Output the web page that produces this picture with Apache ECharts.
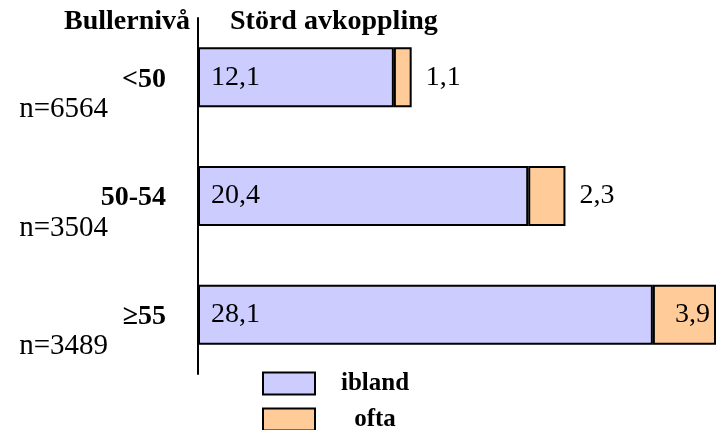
<!DOCTYPE html>
<html>
<head>
<meta charset="utf-8">
<script src="https://cdn.jsdelivr.net/npm/echarts@6/dist/echarts.min.js"></script>
<style>
  html, body { margin: 0; padding: 0; background: #fff; }
  #chart { width: 718px; height: 430px; }
</style>
</head>
<body>
<div id="chart"></div>
<script>
// Bullernivå-kategorier och antal svarande
const levels = ['<50', '50-54', '≥55'];
const counts = ['n=6564', 'n=3504', 'n=3489'];

// Störd avkoppling, procent
const iblandValues = [12.1, 20.4, 28.1];
const oftaValues = [1.1, 2.3, 3.9];

const seriesNames = ['ibland', 'ofta'];

const serif = '"Liberation Serif", "Times New Roman", serif';
const fmt = v => String(v).replace('.', ',');

const chart = echarts.init(document.getElementById('chart'));

// en legend per serie, staplade under varandra
function legendItem(name, top) {
  return {
    left: 262, top: top,
    padding: 0,
    icon: 'rect',
    itemWidth: 52, itemHeight: 22,
    data: [name],
    itemStyle: { borderColor: '#000', borderWidth: 2 },
    formatter: '{a|{name}}',
    selectedMode: false,
    textStyle: {
      rich: {
        a: { fontFamily: serif, fontSize: 25, fontWeight: 'bold', color: '#000', width: 110, align: 'center' }
      }
    }
  };
}

const option = {
  animation: false,
  backgroundColor: '#fff',
  textStyle: { fontFamily: serif },
  title: [
    {
      text: 'Bullernivå',
      right: 528, top: 8, padding: 0,
      textStyle: { fontFamily: serif, fontSize: 28, fontWeight: 'bold', color: '#000' }
    },
    {
      text: 'Störd avkoppling',
      left: 230, top: 8, padding: 0,
      textStyle: { fontFamily: serif, fontSize: 28, fontWeight: 'bold', color: '#000' }
    }
  ],
  grid: { left: 198, right: 2, top: 18, height: 356, containLabel: false },
  xAxis: {
    type: 'value',
    min: 0, max: 32,
    show: false,
    splitLine: { show: false }
  },
  yAxis: {
    type: 'category',
    inverse: true,
    data: levels,
    axisLine: { lineStyle: { color: '#000', width: 2 } },
    axisTick: { show: false },
    axisLabel: {
      margin: 32,
      padding: [34, 0, 0, 0],
      formatter: (v, i) => '{b|' + v + '}\n{n|' + counts[i] + '}',
      rich: {
        b: { fontFamily: serif, fontSize: 28, fontWeight: 'bold', color: '#000', lineHeight: 30 },
        n: { fontFamily: serif, fontSize: 29, color: '#000', lineHeight: 30, padding: [0, 58, 0, 0] }
      }
    }
  },
  legend: [legendItem(seriesNames[0], 371), legendItem(seriesNames[1], 407)],
  series: [
    {
      name: seriesNames[0],
      type: 'bar',
      stack: 'total',
      barWidth: 60,
      data: iblandValues,
      itemStyle: { color: '#ccccff', borderColor: '#000', borderWidth: 2 },
      label: {
        show: true,
        position: 'insideLeft',
        distance: 13,
        formatter: p => fmt(p.value),
        fontFamily: serif, fontSize: 28, color: '#000'
      }
    },
    {
      name: seriesNames[1],
      type: 'bar',
      stack: 'total',
      barWidth: 60,
      data: oftaValues.map((v, i) => i === oftaValues.length - 1
        ? { value: v, label: { position: 'insideRight', distance: 6 } }
        : v),
      itemStyle: { color: '#ffcc99', borderColor: '#000', borderWidth: 2 },
      label: {
        show: true,
        position: 'right',
        distance: 14,
        formatter: p => fmt(p.value),
        fontFamily: serif, fontSize: 28, color: '#000'
      }
    }
  ]
};

chart.setOption(option);
</script>
</body>
</html>
